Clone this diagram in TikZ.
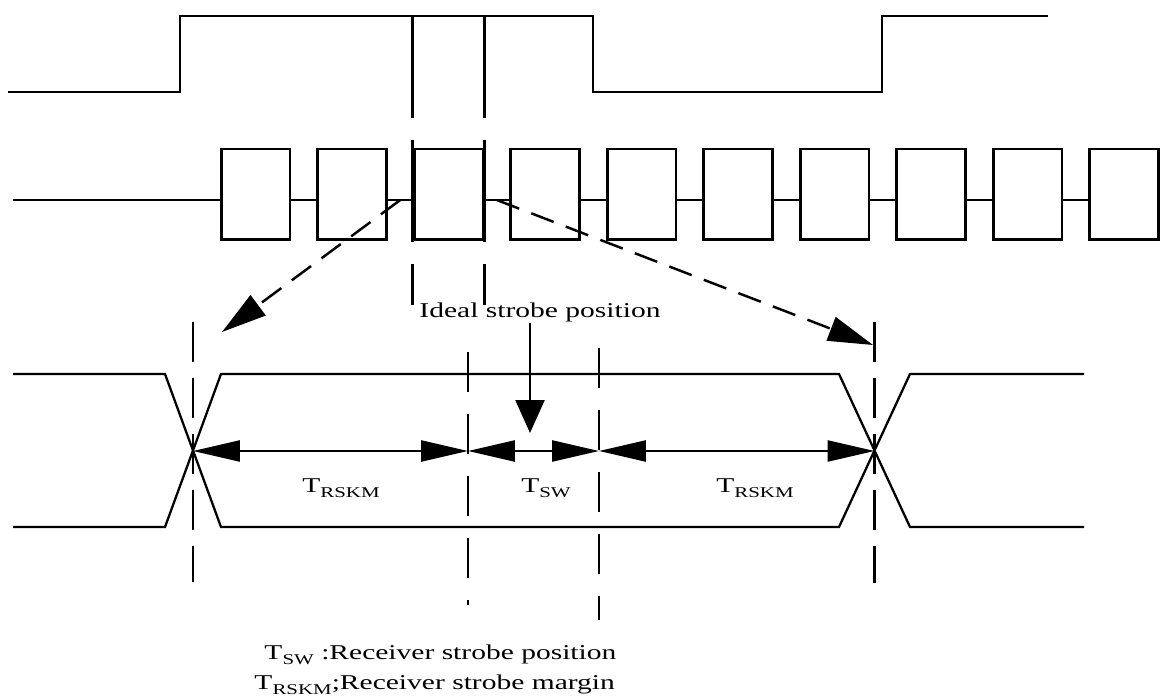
\documentclass[tikz,border=0pt]{standalone}
\usepackage{fontspec}
\setmainfont{Liberation Serif}[FakeStretch=1.4]
\usetikzlibrary{arrows.meta,calc}

\newcommand{\tsub}[1]{T\raisebox{-0.55ex}{\fontsize{8.5}{9}\selectfont #1}}

\begin{document}
\begin{tikzpicture}[x=0.02cm, y=-0.02cm, line width=1.7pt,
	txt/.style={font=\fontsize{12}{14}\selectfont, inner sep=0pt},
	slot/.style={draw, fill=white, minimum width=1.38cm, minimum height=1.82cm, inner sep=0pt},
	gapline/.style={dash pattern=on 2.04cm off 0.44cm, line width=1.5pt},
	guide/.style={dash pattern=on 0.8cm off 0.32cm, line width=1.4pt},
	strobe/.style={dash pattern=on 0.8cm off 0.44cm, line width=1.5pt},
	eye/.style={line width=1.3pt},
	skew/.style={dash pattern=on 0.48cm off 0.26cm, line width=1.4pt, -{Triangle[length=0.9cm,width=0.5cm]}},
	span/.style={line width=1.4pt, {Triangle[length=0.94cm,width=0.42cm]}-{Triangle[length=0.94cm,width=0.42cm]}}]
	
	\useasboundingbox (0,0) rectangle (1161,699);
	
	\draw (8,92) -- (180,92) -- (180,16) -- (593,16) -- (593,92) -- (882,92) -- (882,16) -- (1048,16);
	
	\coordinate (D0) at (13,200);
	\foreach \i in {1,...,10}
		\node[slot] (B\i) at ({255.5+96.5*(\i-1)},194.5) {};
	\draw (D0) -- (B1.west |- D0);
	\foreach \i [count=\j from 2] in {1,...,9}
		\draw (B\i.east |- D0) -- (B\j.west |- D0);
	
	\draw[gapline] (B3.west |- 0,16) -- (B3.west |- 0,305);
	\draw[gapline] (B3.east |- 0,16) -- (B3.east |- 0,305);
	
	\coordinate (XL) at (193,451);
	\coordinate (XR) at (874.5,451);
	\coordinate (SL) at (468,451);
	\coordinate (SR) at (599,451);
	\coordinate (TL) at (222,332);
	\coordinate (TR) at (873,345);
	
	\draw[skew] ($(B2.east |- D0)!0.5!(B3.west |- D0)$) -- (TL);
	\draw[skew] ($(B3.east |- D0)!0.5!(B4.west |- D0)$) -- (TR);
	
	\draw[eye] (13,374) -- (165,374) -- (221,527) -- (839,527) -- (910,374) -- (1084,374);
	\draw[eye] (13,527) -- (165,527) -- (221,374) -- (839,374) -- (910,527) -- (1084,527);
	
	\draw[guide] (XL |- 0,322) -- (XL |- 0,582);
	\draw[guide] (XR |- 0,322) -- (XR |- 0,583);
	\draw[strobe] (SL |- 0,352) -- (SL |- 0,605);
	\draw[strobe] (SR |- 0,348) -- (SR |- 0,620);
	
	\draw[span] (XL) -- (SL);
	\draw[span] (SL) -- (SR);
	\draw[span] (SR) -- (XR);
	
	\node[txt] (IS) at (540,312) {Ideal strobe position};
	\coordinate (IT) at (530,433);
	\draw[line width=1.4pt, -{Triangle[length=0.66cm,width=0.58cm]}] (IS.south -| IT) -- (IT);
	
	\node[txt] (L1) at (341,488) {\tsub{RSKM}};
	\node[txt] (L2) at (546,488) {\tsub{SW}};
	\node[txt] (L3) at (755,488) {\tsub{RSKM}};
	
	\node[txt, anchor=west] (N1) at (263,655) {\tsub{SW} :Receiver strobe position};
	\node[txt, anchor=west] (N2) at (253,685) {\tsub{RSKM};Receiver strobe margin};
	
\end{tikzpicture}
\end{document}
